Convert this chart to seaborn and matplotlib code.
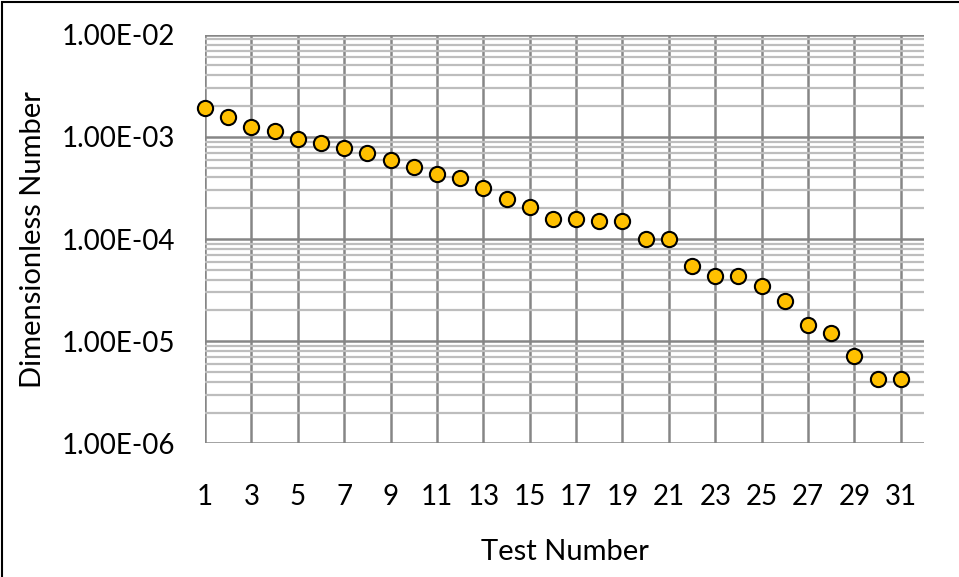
import matplotlib
matplotlib.use("Agg")
import matplotlib.pyplot as plt
import matplotlib.ticker as mticker
from matplotlib.patches import Rectangle
import seaborn as sns
import pandas as pd
import numpy as np

test_number = list(range(1, 32))
dimensionless = [1.92e-3, 1.56e-3, 1.26e-3, 1.14e-3, 9.5e-4, 8.8e-4, 7.7e-4, 6.9e-4,
                 5.96e-4, 5.05e-4, 4.3e-4, 3.92e-4, 3.13e-4, 2.47e-4, 2.07e-4, 1.56e-4,
                 1.56e-4, 1.50e-4, 1.50e-4, 9.9e-5, 9.9e-5, 5.4e-5, 4.35e-5, 4.35e-5,
                 3.44e-5, 2.47e-5, 1.44e-5, 1.21e-5, 7.1e-6, 4.25e-6, 4.25e-6]
x_ticks = list(range(1, 32, 2))
y_ticks = [1e-6, 1e-5, 1e-4, 1e-3, 1e-2]
y_tick_labels = ["1.00E-06", "1.00E-05", "1.00E-04", "1.00E-03", "1.00E-02"]

df = pd.DataFrame({"Test Number": test_number, "Dimensionless Number": dimensionless})

sns.set_theme(style="white")
plt.rcParams["font.family"] = ["Lato", "DejaVu Sans"]

fig = plt.figure(figsize=(9.59, 5.77), dpi=100)
ax = fig.add_axes([205/959, 1 - 443.3/577, (924-205)/959, (443.3-34.7)/577])

ax.set_yscale("log")
ax.set_ylim(1e-6, 1e-2)
ax.set_xlim(1, 32)

major_c = "#868686"
minor_c = "#bdbdbd"
ax.yaxis.set_minor_locator(mticker.LogLocator(base=10, subs=np.arange(2, 10)))
ax.yaxis.set_minor_formatter(mticker.NullFormatter())
ax.grid(which="minor", axis="y", color=minor_c, linewidth=1.6, zorder=0)
ax.grid(which="major", axis="both", color=major_c, linewidth=1.8, zorder=0)
ax.set_axisbelow(True)

sns.scatterplot(data=df, x="Test Number", y="Dimensionless Number", ax=ax,
                color="#FFC000", edgecolor="black", linewidth=1.5, s=120,
                zorder=3, legend=False, clip_on=False)

ax.set_xticks(x_ticks)
ax.set_xticklabels([str(v) for v in x_ticks])
ax.set_yticks(y_ticks)
ax.set_yticklabels(y_tick_labels)

for s in ["top", "right", "bottom", "left"]:
    ax.spines[s].set_visible(False)

ax.tick_params(axis="both", which="major", direction="out", length=6.5, width=1.5,
               color=major_c, labelsize=20, labelcolor="black")
ax.tick_params(axis="x", pad=23)
ax.tick_params(axis="y", pad=15)
ax.tick_params(axis="y", which="minor", length=0)

ax.set_xlabel("Test Number", fontsize=21, color="black")
ax.set_ylabel("Dimensionless Number", fontsize=21, color="black")
ax.xaxis.set_label_coords(0.5, -0.266)
ax.xaxis.label.set_va("center")
ax.yaxis.set_label_coords(-0.239, 0.4976)
ax.yaxis.label.set_va("center")

# outer chart border (visible on left and top)
fig.patches.append(Rectangle((2/959, -0.1), 1.2, 1 - 2/577 + 0.1, transform=fig.transFigure,
                             fill=False, edgecolor="black", linewidth=1.5))

fig.savefig("out.png", dpi=100)
